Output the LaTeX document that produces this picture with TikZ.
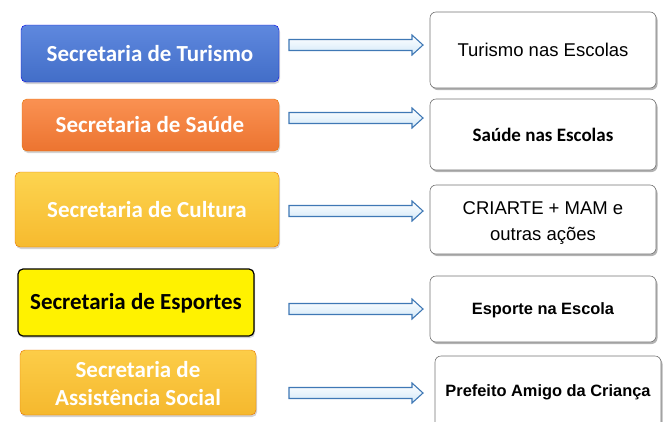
\documentclass[tikz,border=0pt]{standalone}
\usepackage{fontspec}
\setmainfont{Liberation Sans}
\newfontfamily\calib{Carlito}
\usetikzlibrary{calc,shadows}
\definecolor{arrline}{HTML}{3F78B5}
\definecolor{arrfill}{HTML}{D2E8F8}
\tikzset{
  secbox/.style={rounded corners=5pt, draw=#1!90!black, line width=0.4pt,
     drop shadow={shadow xshift=1pt, shadow yshift=-2pt, opacity=0.35}},
  sectext/.style={font=\calib\bfseries\fontsize{23}{28}\selectfont, text=white, align=center},
  progbox/.style={rounded corners=6pt, draw=black!55, line width=0.6pt, fill=white,
     drop shadow={shadow xshift=1.5pt, shadow yshift=-2pt, opacity=0.6}},
  fatarr/.style={draw=arrline, line width=1.1pt, top color=white, bottom color=arrfill, line join=miter},
}
\newcommand{\fatarrow}[2]{%
  \draw[fatarr] ($(#1)+(0,-5.5)$) -- ($(#2)+(-11,-5.5)$) -- ($(#2)+(-11,-10)$) -- (#2)
     -- ($(#2)+(-11,10)$) -- ($(#2)+(-11,5.5)$) -- ($(#1)+(0,5.5)$) -- cycle;}
\begin{document}
\begin{tikzpicture}[x=1pt,y=-1pt]
\useasboundingbox (0,0) rectangle (666,421);
\clip (0,0) rectangle (666,421);
% left boxes
\path[secbox=blue, top color={rgb,255:red,95;green,136;blue,222}, bottom color={rgb,255:red,66;green,110;blue,200}]
  (21,25) rectangle (279,82);
\node[sectext] (L1) at (150,53.5) {Secretaria de Turismo};
\path[secbox=orange, top color={rgb,255:red,250;green,145;blue,82}, bottom color={rgb,255:red,236;green,116;blue,48}]
  (22,99) rectangle (279,151);
\node[sectext] (L2) at (150,125) {Secretaria de Saúde};
\path[secbox=orange, top color={rgb,255:red,253;green,212;blue,80}, bottom color={rgb,255:red,246;green,186;blue,46}]
  (15,172) rectangle (279,247);
\node[sectext] (L3) at (147,210) {Secretaria de Cultura};
\path[rounded corners=5pt, draw=black, line width=1.2pt, fill=yellow,
     drop shadow={shadow xshift=1pt, shadow yshift=-2pt, opacity=0.35}]
  (18,269) rectangle (254,336);
\node[sectext, text=black] (L4) at (136,303) {Secretaria de Esportes};
\path[secbox=orange, top color={rgb,255:red,252;green,205;blue,72}, bottom color={rgb,255:red,245;green,184;blue,46}]
  (20,350) rectangle (256,415);
\node[sectext] (L5) at (138,384) {Secretaria de\\Assistência Social};
% right boxes
\path[progbox] (430,12) rectangle (656,88);
\node[font=\fontsize{18.5}{26}\selectfont] (R1) at (543,50) {Turismo nas Escolas};
\path[progbox] (430,99) rectangle (656,170);
\node[font=\calib\bfseries\fontsize{19}{24}\selectfont] (R2) at (543,135) {Saúde nas Escolas};
\path[progbox] (430,185) rectangle (656,254);
\node[font=\fontsize{18.5}{26.5}\selectfont, align=center] (R3) at (543,223) {CRIARTE + MAM e\\outras ações};
\path[progbox] (430,276) rectangle (656,342);
\node[font=\bfseries\fontsize{16.4}{20}\selectfont] (R4) at (543,310) {Esporte na Escola};
\path[progbox] (435,356) rectangle (661,440);
\node[font=\bfseries\fontsize{16.4}{20}\selectfont] (R5) at (548,392) {Prefeito Amigo da Criança};
% arrows
\coordinate (a1) at (289,45);  \coordinate (b1) at (423,45);
\coordinate (a2) at (289,118); \coordinate (b2) at (423,118);
\coordinate (a3) at (289,211); \coordinate (b3) at (423,211);
\coordinate (a4) at (289,309); \coordinate (b4) at (423,309);
\coordinate (a5) at (289,393); \coordinate (b5) at (423,393);
\fatarrow{a1}{b1}
\fatarrow{a2}{b2}
\fatarrow{a3}{b3}
\fatarrow{a4}{b4}
\fatarrow{a5}{b5}
\end{tikzpicture}
\end{document}
